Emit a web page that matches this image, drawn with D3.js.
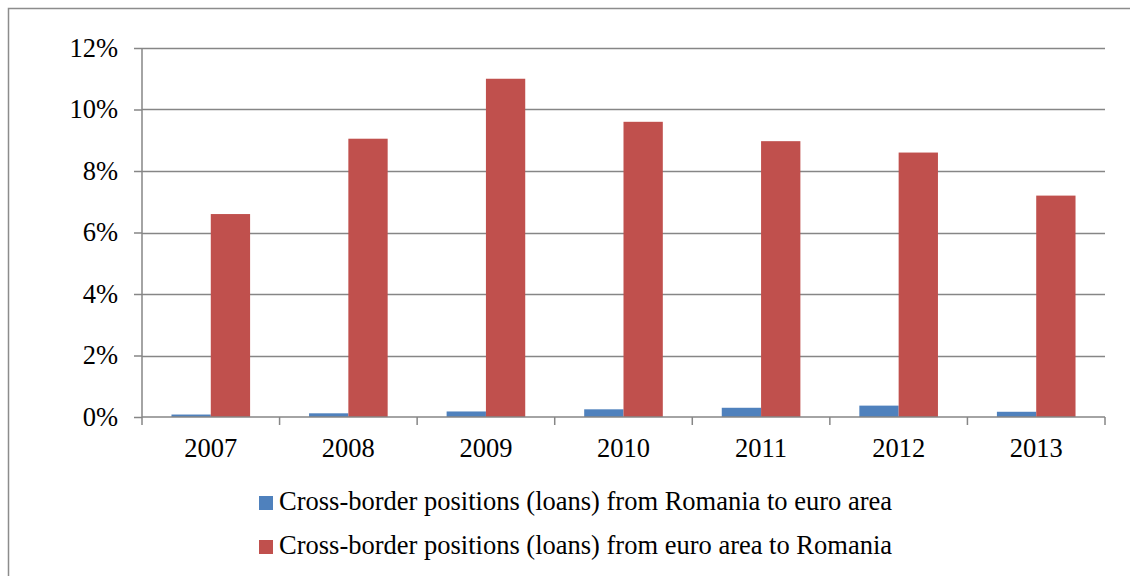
<!DOCTYPE html>
<html>
<head>
<meta charset="utf-8">
<script src="https://cdn.jsdelivr.net/npm/d3@7"></script>
<style>
  body { margin: 0; background: #fff; }
  svg { display: block; font-family: "Liberation Serif", "Times New Roman", serif; }
</style>
</head>
<body>
<svg id="chart"></svg>
<script>
var width = 1130,
    height = 576;

// data (percent)
var years = ["2007", "2008", "2009", "2010", "2011", "2012", "2013"];
var seriesNames = [
  "Cross-border positions (loans) from Romania to euro area",
  "Cross-border positions (loans) from euro area to Romania"
];
var roToEuro = [0.08, 0.12, 0.18, 0.25, 0.30, 0.37, 0.17];
var euroToRo = [6.6, 9.05, 11.0, 9.6, 8.97, 8.6, 7.2];
var yTicks = [0, 2, 4, 6, 8, 10, 12];

var colors = ["#4F81BD", "#C0504D"];
var fontSize = "26.5px";

var svg = d3.select("#chart")
    .attr("width", width)
    .attr("height", height);

// outer frame (runs past the right and bottom edge)
svg.append("rect")
  .attr("x", 8.5).attr("y", 8.5)
  .attr("width", 1200).attr("height", 700)
  .attr("fill", "none")
  .attr("stroke", "#8c8c8c")
  .attr("stroke-width", 1.5);

var plotLeft = 142, plotRight = 1105, plotTop = 48, plotBottom = 417;

var x = d3.scaleBand()
  .domain(years)
  .range([plotLeft, plotRight]);

var x1 = d3.scaleBand()
  .domain([0, 1])
  .range([0, x.bandwidth()])
  .paddingInner(0)
  .paddingOuter(0.75);

var y = d3.scaleLinear()
  .domain([0, 12])
  .range([plotBottom, plotTop]);

// gridlines
svg.append("g")
  .selectAll("line")
  .data(yTicks.filter(function(d) { return d > 0; }))
  .join("line")
  .attr("x1", plotLeft).attr("x2", plotRight)
  .attr("y1", function(d) { return Math.round(y(d)) + 0.5; })
  .attr("y2", function(d) { return Math.round(y(d)) + 0.5; })
  .attr("stroke", "#868686")
  .attr("stroke-width", 1.5);

// bars
var data = years.map(function(yr, i) { return [roToEuro[i], euroToRo[i]]; });
svg.append("g")
  .selectAll("g")
  .data(data)
  .join("g")
  .attr("transform", function(d, i) { return "translate(" + x(years[i]) + ",0)"; })
  .selectAll("rect")
  .data(function(d) { return d; })
  .join("rect")
  .attr("x", function(d, j) { return x1(j); })
  .attr("width", x1.bandwidth())
  .attr("y", function(d) { return y(d); })
  .attr("height", function(d) { return y(0) - y(d); })
  .attr("fill", function(d, j) { return colors[j]; });

// y axis
var yAxis = svg.append("g")
  .attr("transform", "translate(" + plotLeft + ",0)")
  .call(d3.axisLeft(y).tickValues(yTicks).tickFormat(function(d) { return d + "%"; })
    .tickSize(8).tickPadding(16));

// x axis
var xAxis = svg.append("g")
  .attr("transform", "translate(0," + plotBottom + ")")
  .call(d3.axisBottom(x).tickSize(0).tickPadding(21));

xAxis.selectAll(".tick line").remove();
// category boundary ticks
xAxis.selectAll(".bound")
  .data(years.map(function(d) { return x(d); }).concat([plotRight]))
  .join("line")
  .attr("class", "bound")
  .attr("x1", function(d) { return d; }).attr("x2", function(d) { return d; })
  .attr("y1", 0).attr("y2", 8)
  .attr("stroke", "#868686").attr("stroke-width", 1.5);

[yAxis, xAxis].forEach(function(g) {
  g.select(".domain").attr("stroke", "#868686").attr("stroke-width", 1.5);
  g.selectAll(".tick line").attr("stroke", "#868686").attr("stroke-width", 1.5);
  g.selectAll("text")
    .attr("fill", "#000")
    .style("font-family", "'Liberation Serif', 'Times New Roman', serif")
    .style("font-size", fontSize);
});
yAxis.select(".domain").attr("d", "M0," + plotTop + "V" + plotBottom);
xAxis.select(".domain").attr("d", "M" + plotLeft + ",0H" + plotRight);

// legend
var legend = svg.append("g")
  .selectAll("g")
  .data(seriesNames)
  .join("g")
  .attr("transform", function(d, i) { return "translate(259," + (496 + i * 44) + ")"; });

legend.append("rect")
  .attr("width", 14).attr("height", 14)
  .attr("fill", function(d, i) { return colors[i]; });

legend.append("text")
  .attr("x", 20).attr("y", 14)
  .style("font-size", fontSize)
  .text(function(d) { return d; });
</script>
</body>
</html>
